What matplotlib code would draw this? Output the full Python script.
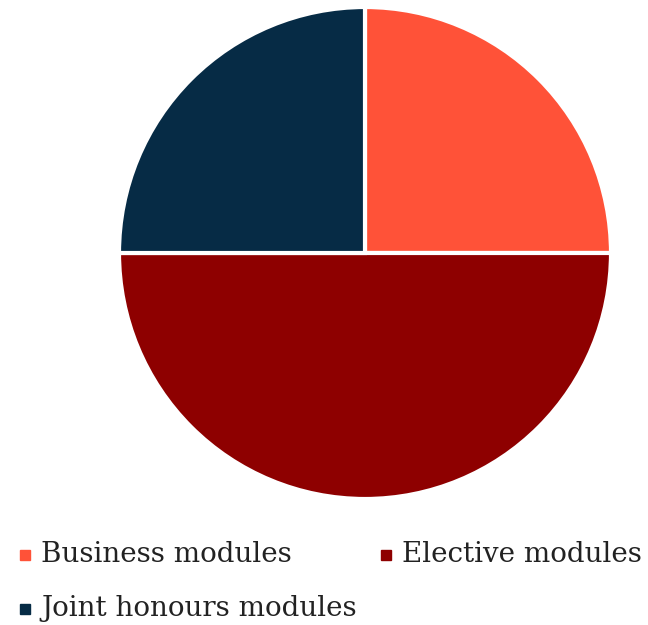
import matplotlib
matplotlib.use("Agg")
import matplotlib.pyplot as plt
from matplotlib.patches import Rectangle

# Data
labels = ["Business modules", "Elective modules", "Joint honours modules"]
shares = [25, 50, 25]
colors = ["#FF5238", "#8E0000", "#062B45"]

W, H = 648, 625
fig = plt.figure(figsize=(W / 100, H / 100), dpi=100)

# pie axes, centre (365, 253) px, radius 246 px
cx, cy, r = 365, 253, 246
ax = fig.add_axes([(cx - r) / W, (H - cy - r) / H, 2 * r / W, 2 * r / H])
ax.pie(shares, colors=colors, startangle=90, counterclock=False,
       wedgeprops=dict(edgecolor="white", linewidth=3))
ax.set_xlim(-1, 1)
ax.set_ylim(-1, 1)
ax.set_aspect("equal")
ax.axis("off")

# legend, drawn by hand
leg_pos = [(20, 555), (381, 555), (20, 609)]
for (x, y), lab, c in zip(leg_pos, labels, colors):
    fig.patches.append(Rectangle((x / W, (H - y - 5) / H), 10 / W, 10 / H,
                                 transform=fig.transFigure, color=c))
    fig.text((x + 21) / W, (H - y) / H, lab, fontsize=20,
             family="DejaVu Serif", color="#222222", va="center")

fig.savefig("out.png", dpi=100)
